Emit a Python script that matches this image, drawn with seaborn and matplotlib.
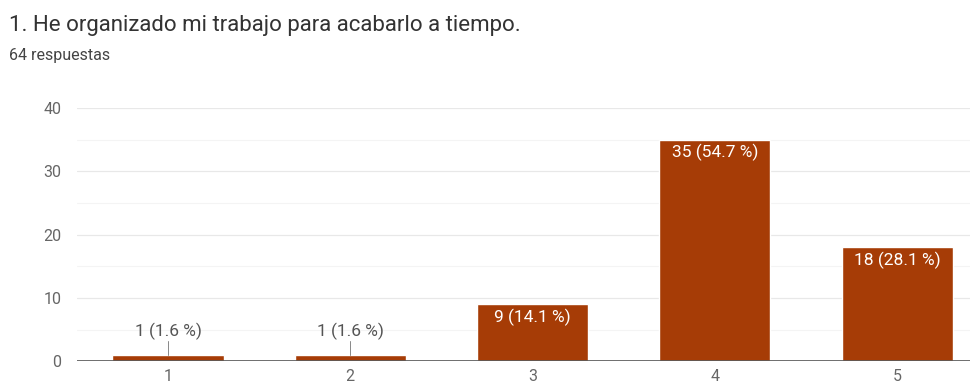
import pandas as pd
import matplotlib.pyplot as plt
import seaborn as sns

# Survey data
categories = ["1", "2", "3", "4", "5"]
counts = [1, 1, 9, 35, 18]
percents = [1.6, 1.6, 14.1, 54.7, 28.1]
yticks = [0, 10, 20, 30, 40]

title = "1. He organizado mi trabajo para acabarlo a tiempo."
subtitle = "64 respuestas"
barColor = "#a63c06"


def main():
    sns.set_style("white")
    plt.rcParams['font.family'] = ['Roboto', 'DejaVu Sans']

    df = pd.DataFrame({"opcion": categories, "respuestas": counts})

    fig = plt.figure(figsize=(9.72, 3.85), dpi=100)
    ax = fig.add_axes([0.079, 0.062, 0.919, 0.657])

    sns.barplot(data=df, x="opcion", y="respuestas", color=barColor,
                width=0.61, saturation=1, ax=ax, zorder=3)

    ax.set_ylim(0, 40)
    ax.set_xlim(-0.5, 4.4)
    ax.set_yticks(yticks)
    for v in [5, 15, 25, 35]:
        ax.axhline(v, color="#f4f4f4", lw=0.8, zorder=0)
    for v in yticks[1:]:
        ax.axhline(v, color="#e8e8e8", lw=0.9, zorder=0)
    ax.axhline(0, color="#555555", lw=1.2, zorder=4)

    for s in ax.spines.values():
        s.set_visible(False)
    ax.tick_params(axis="both", length=0, labelsize=11.5, colors="#666666")
    ax.tick_params(axis="y", pad=11)
    ax.tick_params(axis="x", pad=6)
    ax.set_xlabel("")
    ax.set_ylabel("")

    # Value labels
    for i, (c, p) in enumerate(zip(counts, percents)):
        text = f"{c} ({p} %)"
        if c >= 5:
            ax.text(i, c - 0.7, text, ha="center", va="top", color="white",
                    fontsize=12.5, zorder=5)
        else:
            ax.plot([i, i], [c, c + 2.2], color="#888888", lw=0.7, zorder=5)
            ax.text(i, c + 2.3, text, ha="center", va="bottom", color="#555555",
                    fontsize=12.5, zorder=5)

    fig.text(0.009, 0.919, title, ha="left", va="baseline", fontsize=16, color="#333333")
    fig.text(0.009, 0.844, subtitle, ha="left", va="baseline", fontsize=11.5, color="#444444")

    fig.savefig("out.png", dpi=100)
    plt.close(fig)


if __name__ == "__main__":
    main()
